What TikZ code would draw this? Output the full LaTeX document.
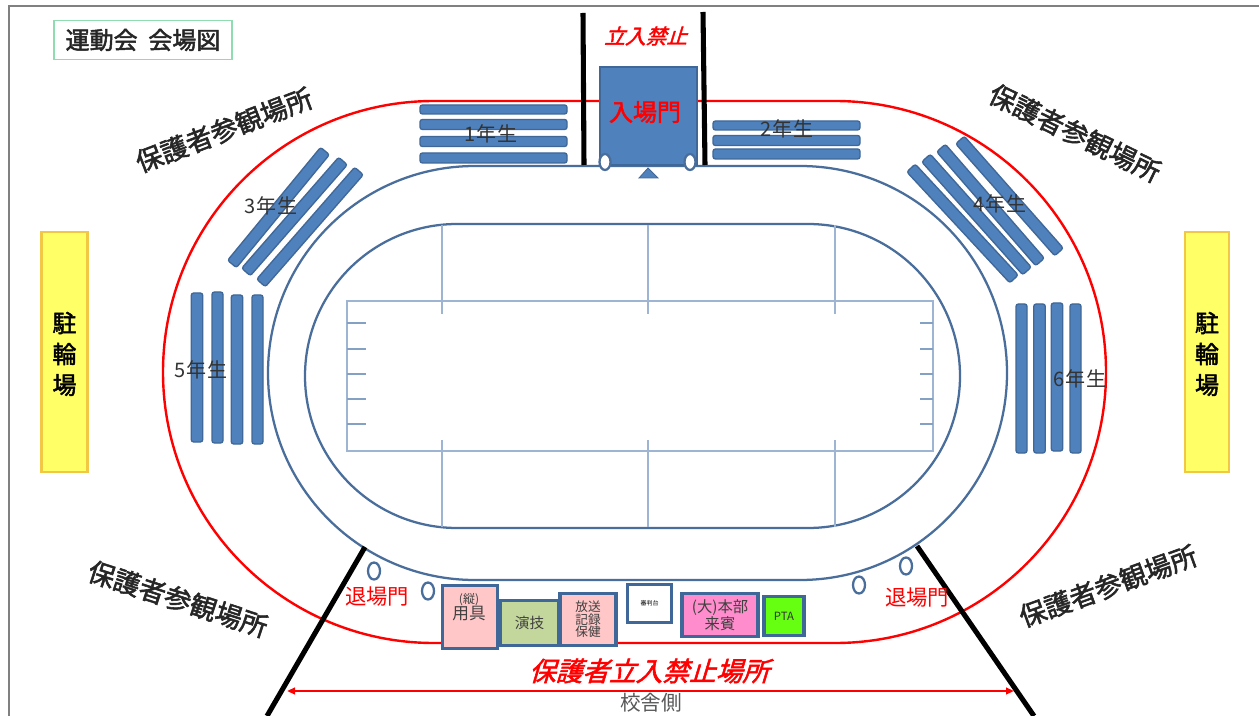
\documentclass[tikz,border=0pt]{standalone}
\usepackage{fontspec}
\usetikzlibrary{arrows.meta}
\setmainfont{Noto Sans CJK JP}
\newfontfamily\jpbold[FakeBold=2]{Noto Sans CJK JP}
\definecolor{seatfill}{HTML}{4F81BD}
\definecolor{seatline}{HTML}{3F6797}
\definecolor{trackline}{HTML}{4A6E9C}
\definecolor{fieldline}{HTML}{9DB5D3}
\definecolor{titleline}{HTML}{8FDCB0}
\definecolor{boothpink}{HTML}{FFC7C7}
\definecolor{boothgreen}{HTML}{C3D69B}
\definecolor{boothrose}{HTML}{FF8CCC}
\definecolor{boothlime}{HTML}{66FF11}
\definecolor{yardfill}{HTML}{FFFF66}
\definecolor{yardline}{HTML}{F2C744}
\newcommand{\seatbar}[5]{%
  \pgfmathsetmacro\sdx{#3-#1}\pgfmathsetmacro\sdy{#4-#2}%
  \pgfmathsetmacro\slen{veclen(\sdx,\sdy)}%
  \pgfmathsetmacro\snx{-\sdy/\slen*#5/2}\pgfmathsetmacro\sny{\sdx/\slen*#5/2}%
  \draw[seatstyle] (#1+\snx,#2+\sny) -- (#3+\snx,#4+\sny) -- (#3-\snx,#4-\sny) -- (#1-\snx,#2-\sny) -- cycle;}
\newcommand{\fs}[1]{\fontsize{#1}{#1}\selectfont}
\tikzset{
  seatstyle/.style={fill=seatfill,draw=seatline,line width=1pt,rounded corners=1.8pt},
  trackstyle/.style={draw=trackline,line width=1.7pt},
  fieldstyle/.style={draw=fieldline,line width=1pt},
  wall/.style={draw=black,line width=3.8pt},
  booth/.style={draw=seatline,line width=2.4pt,inner sep=0pt,align=center,text=black!75},
  gateoval/.style={draw=trackline,line width=1.7pt,fill=white},
  yard/.style={fill=yardfill,draw=yardline,line width=1.6pt},
  seatlabel/.style={font=\fs{15}\addfontfeature{LetterSpace=6},text=black!80},
  viewer/.style={font=\jpbold\fs{20},text=black!85},
  parking/.style={font=\jpbold\fs{18},text=black},
}
\begin{document}
\begin{tikzpicture}[x=0.75pt,y=-0.75pt]
\useasboundingbox (0,0) rectangle (1259,716);
\fill[white] (0,0) rectangle (1259,716);
% frame
\draw[black!50,line width=1.6pt] (9,716) -- (9,6) -- (1259,6);
% title
\node[draw=titleline,line width=1pt,minimum width=133.5pt,minimum height=29pt,inner sep=0pt,font=\jpbold\fs{18},text=black!85] (title) at (143,40) {運動会\ \ 会場図};
% red boundary
\draw[red,line width=1.8pt,rounded corners=203.2pt] (163,101) rectangle (1106,643);
% track
\draw[trackstyle,rounded corners=155.2pt] (268,166) rectangle (1007,580);
\draw[trackstyle,rounded corners=114pt] (305,224) rectangle (960,528);
% field
\draw[fieldstyle] (347,301) rectangle (933,451);
\foreach \fx in {442,648,835}{
  \draw[fieldstyle] (\fx,225) -- (\fx,314);
  \draw[fieldstyle] (\fx,440) -- (\fx,527);
}
\foreach \fy/\fw in {323/1.6,349/1,374/1,399/1.6,424/1.6}{
  \draw[draw=fieldline!70!trackline,line width=\fw pt] (347,\fy) -- (366,\fy);
  \draw[draw=fieldline!70!trackline,line width=\fw pt] (920,\fy) -- (933,\fy);
}
% seats 1
\seatbar{420}{109.5}{567}{109.5}{9}
\seatbar{420}{124.5}{567}{124.5}{10}
\seatbar{420}{141.5}{567}{141.5}{10}
\seatbar{420}{158}{567}{158}{10}
% seats 2
\seatbar{713}{125.5}{860}{125.5}{9}
\seatbar{713}{140.5}{860}{140.5}{10}
\seatbar{713}{154}{860}{154}{10}
% seats 3
\seatbar{325}{151}{232}{264}{11.5}
\seatbar{343}{161}{246}{272}{11.5}
\seatbar{359}{171}{261}{283}{11.5}
% seats 4
\seatbar{960}{140}{1059}{252}{11.5}
\seatbar{941}{148}{1040}{262}{11.5}
\seatbar{926}{158}{1027}{271}{11.5}
\seatbar{911}{168}{1014}{279}{11.5}
% seats 5
\seatbar{197}{293}{197}{442}{11.5}
\seatbar{217.5}{292}{217.5}{443}{11}
\seatbar{237}{295}{237}{444}{11.5}
\seatbar{257.5}{295}{257.5}{444}{11}
% seats 6
\seatbar{1021.5}{304}{1021.5}{453}{11}
\seatbar{1039.5}{304}{1039.5}{453}{11.5}
\seatbar{1057}{303}{1057}{451}{11.5}
\seatbar{1075.5}{304}{1075.5}{453}{11}
% entrance walls
\coordinate (wallAtop) at (583,13);
\coordinate (wallAend) at (584,165);
\coordinate (wallBtop) at (703,12);
\coordinate (wallBend) at (705,165);
\draw[wall] (wallAtop) -- (wallAend);
\draw[wall] (wallBtop) -- (wallBend);
% entrance
\node[fill=seatfill,draw=seatline,line width=1.4pt,minimum width=72.5pt,minimum height=73.5pt,inner sep=0pt] (gate) at (648.5,116) {};
\node[font=\jpbold\fs{18},text=red] (gatelabel) at (645,112) {入場門};
\draw[gateoval] (605,162) ellipse[x radius=5.5,y radius=8];
\draw[gateoval] (690,162) ellipse[x radius=5.5,y radius=8];
\fill[seatfill,draw=seatline,line width=.6pt] (648,168) -- (658,178) -- (639,178) -- cycle;
% seat labels
\node[seatlabel] (g1) at (491,134) {1年生};
\node[seatlabel] (g2) at (787,129) {2年生};
\node[seatlabel] (g3) at (271,206) {3年生};
\node[seatlabel] (g4) at (1000,204) {4年生};
\node[seatlabel] (g5) at (201,370) {5年生};
\node[seatlabel] (g6) at (1080,379) {6年生};
% viewers
\node[viewer,rotate=21] (v1) at (224,130) {保護者参観場所};
\node[viewer,rotate=-26] (v2) at (1075,133) {保護者参観場所};
\node[viewer,rotate=-18] (v3) at (178,599) {保護者参観場所};
\node[viewer,rotate=20] (v4) at (1108,586) {保護者参観場所};
% parking
\node[yard,minimum width=34.5pt,minimum height=180pt,inner sep=0pt] (p1) at (64.5,352) {};
\node[yard,minimum width=33pt,minimum height=180pt,inner sep=0pt] (p2) at (1207,352) {};
\foreach \px in {64.5,1207}{
  \node[parking] at (\px,323) {駐};
  \node[parking] at (\px,354) {輪};
  \node[parking] at (\px,385) {場};
}
% prohibited
\node[font=\jpbold\fs{15.5},text=red,xslant=.3] (ban) at (648,36) {立入禁止};
% bottom walls
\coordinate (wallCtop) at (365,547);
\coordinate (wallCend) at (267,716);
\coordinate (wallDtop) at (917,546);
\coordinate (wallDend) at (1034,716);
\draw[wall] (wallCtop) -- (wallCend);
\draw[wall] (wallDtop) -- (wallDend);
% exit ovals
\foreach \ox/\oy in {374/571,428/591,859/585,906/566}{
  \draw[trackline,line width=1.7pt,fill=white] (\ox,\oy) ellipse[x radius=6,y radius=8.5];
}
\node[font=\fs{16},text=red] (ex1) at (377,597) {退場門};
\node[font=\fs{16},text=red] (ex2) at (917,598) {退場門};
% booths
\node[booth,fill=boothpink,minimum width=41pt,minimum height=47pt] (b1) at (470,617) {};
\node[font=\fs{12.5},align=center,text=black!75,inner sep=0pt] (b1t) at (469,607) {\fs{9}(縦)\\用具};
\node[booth,fill=boothgreen,minimum width=43pt,minimum height=33.5pt,font=\fs{11}] (b2) at (529.5,623) {演技};
\node[booth,fill=boothpink,minimum width=42pt,minimum height=38.5pt,font=\fs{9.5}\linespread{1.1}] (b3) at (588,619.5) {放送\\記録\\保健};
\node[booth,fill=white,minimum width=33pt,minimum height=28pt,font=\fs{4.5},text=black] (b4) at (649.5,603.5) {審判台};
\node[booth,fill=boothrose,minimum width=57pt,minimum height=32pt,font=\fs{11.5}] (b5) at (720,615) {(大)本部\\来賓};
\node[booth,fill=boothlime,minimum width=30pt,minimum height=29pt,font=\fs{8.5},text=black!80] (b6) at (784,616) {PTA};
% prohibited area
\node[font=\jpbold\fs{20},text=red,xslant=.3] (noentry) at (652,671) {保護者立入禁止場所};
\coordinate (arrowL) at (287,691);
\coordinate (arrowR) at (1014,691);
\draw[red,line width=1.6pt,{Triangle[length=6pt,width=5pt]}-{Triangle[length=6pt,width=5pt]}] (arrowL) -- (arrowR);
\node[font=\fs{15.5},text=black!65] (school) at (651,703) {校舎側};
\end{tikzpicture}
\end{document}
